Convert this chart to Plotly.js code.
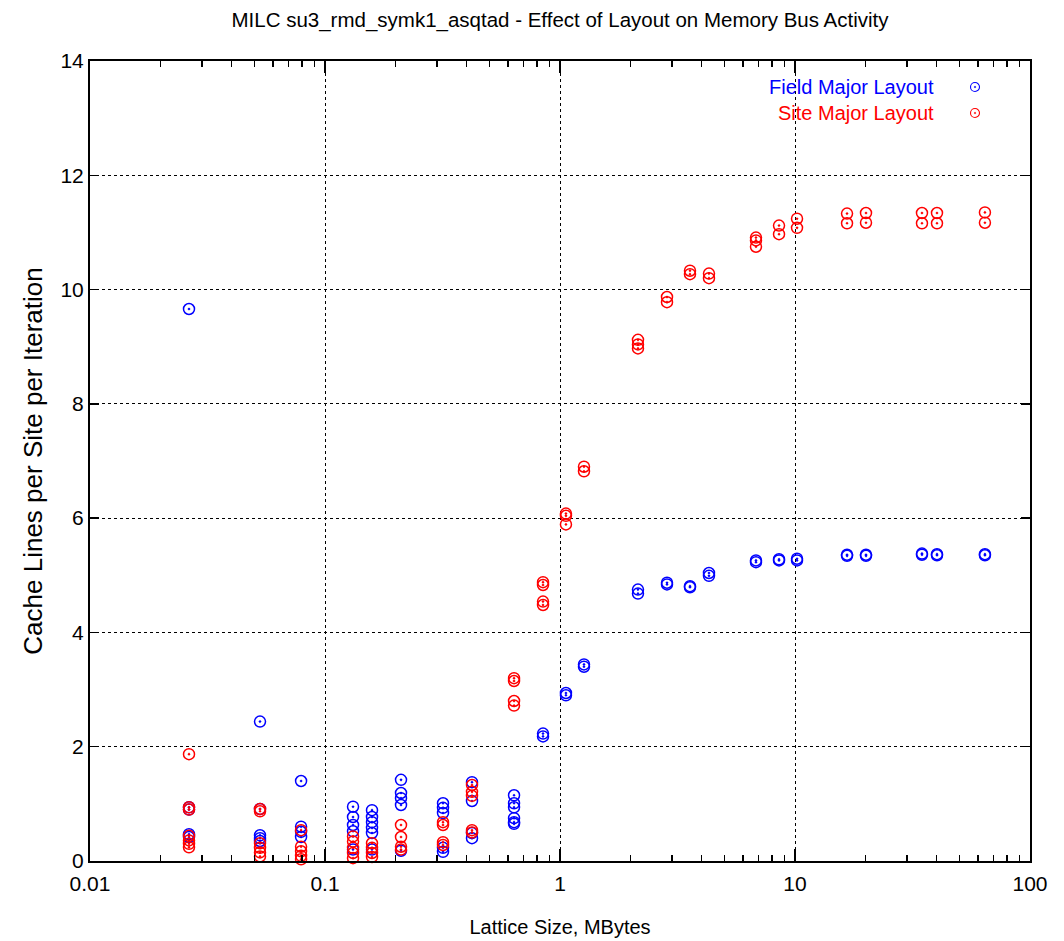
<!DOCTYPE html>
<html>
<head>
<meta charset="utf-8">
<script src="https://cdn.plot.ly/plotly-3.0.1.min.js"></script>
<style>
  html, body { margin: 0; padding: 0; background: #fff; }
  #chart { width: 1064px; height: 941px; }
</style>
</head>
<body>
<div id="chart"></div>
<script>
// Lattice size (MBytes) and cache lines per site per iteration, one row per run
const fieldX = [
  0.02638, 0.02638, 0.02638, 0.02638, 0.02638,
  0.0529, 0.0529, 0.0529, 0.0529, 0.0529,
  0.0791, 0.0791, 0.0791, 0.0791,
  0.1316, 0.1316, 0.1316, 0.1316, 0.1316,
  0.1585, 0.1585, 0.1585, 0.1585, 0.1585, 0.1585,
  0.2106, 0.2106, 0.2106, 0.2106, 0.2106,
  0.3178, 0.3178, 0.3178, 0.3178, 0.3178,
  0.4222, 0.4222, 0.4222, 0.4222,
  0.6374, 0.6374, 0.6374, 0.6374, 0.6374, 0.6374,
  0.8467, 0.8467,
  1.06, 1.06,
  1.265, 1.265,
  2.147, 2.147,
  2.853, 2.853,
  3.574, 3.574,
  4.305, 4.305,
  6.823, 6.823,
  8.551, 8.551,
  10.20, 10.20,
  16.65, 16.65,
  20.05, 20.05,
  34.7, 34.7,
  40.2, 40.2,
  64.3, 64.3
];
const fieldY = [
  9.66, 0.94, 0.90, 0.47, 0.42,
  2.44, 0.91, 0.45, 0.40, 0.35,
  1.40, 0.60, 0.51, 0.42,
  0.95, 0.77, 0.63, 0.52, 0.20,
  0.89, 0.77, 0.68, 0.58, 0.49, 0.20,
  1.42, 1.19, 1.10, 0.98, 0.18,
  1.01, 0.93, 0.84, 0.23, 0.16,
  1.38, 1.05, 0.49, 0.40,
  1.15, 1.01, 0.94, 0.75, 0.68, 0.65,
  2.23, 2.18,
  2.94, 2.90,
  3.44, 3.40,
  4.75, 4.68,
  4.87, 4.84,
  4.81, 4.79,
  5.04, 4.99,
  5.26, 5.23,
  5.28, 5.26,
  5.29, 5.26,
  5.36, 5.34,
  5.36, 5.34,
  5.38, 5.36,
  5.37, 5.35,
  5.37, 5.35
];

const siteX = [
  0.02638, 0.02638, 0.02638, 0.02638, 0.02638, 0.02638, 0.02638,
  0.0529, 0.0529, 0.0529, 0.0529, 0.0529, 0.0529,
  0.0791, 0.0791, 0.0791, 0.0791, 0.0791,
  0.1316, 0.1316, 0.1316, 0.1316, 0.1316,
  0.1585, 0.1585, 0.1585, 0.1585,
  0.2106, 0.2106, 0.2106, 0.2106,
  0.3178, 0.3178, 0.3178, 0.3178,
  0.4222, 0.4222, 0.4222, 0.4222, 0.4222,
  0.6374, 0.6374, 0.6374, 0.6374,
  0.8467, 0.8467, 0.8467, 0.8467,
  1.06, 1.06, 1.06,
  1.265, 1.265,
  2.147, 2.147, 2.147,
  2.853, 2.853,
  3.574, 3.574,
  4.305, 4.305,
  6.823, 6.823, 6.823,
  8.551, 8.551,
  10.20, 10.20,
  16.65, 16.65,
  20.05, 20.05,
  34.7, 34.7,
  40.2, 40.2,
  64.3, 64.3
];
const siteY = [
  1.87, 0.94, 0.90, 0.44, 0.36, 0.30, 0.24,
  0.91, 0.87, 0.31, 0.23, 0.15, 0.08,
  0.54, 0.25, 0.17, 0.09, 0.03,
  0.43, 0.34, 0.23, 0.14, 0.05,
  0.31, 0.23, 0.14, 0.07,
  0.63, 0.42, 0.25, 0.20,
  0.68, 0.63, 0.33, 0.28,
  1.33, 1.21, 1.14, 0.54, 0.50,
  3.20, 3.15, 2.80, 2.72,
  4.88, 4.83, 4.54, 4.48,
  6.08, 6.04, 5.89,
  6.90, 6.82,
  9.12, 9.04, 8.97,
  9.87, 9.78,
  10.33, 10.27,
  10.28, 10.20,
  10.91, 10.86, 10.75,
  11.12, 10.97,
  11.24, 11.08,
  11.33, 11.16,
  11.34, 11.17,
  11.34, 11.16,
  11.34, 11.16,
  11.35, 11.17
];

const xTickVals = [0.01, 0.1, 1, 10, 100];
const xTickText = ['0.01', '0.1', '1', '10', '100'];
const seriesNames = ['Field Major Layout', 'Site Major Layout'];
const seriesColors = ['#0000ff', '#ff0000'];

// minor ticks at 2..9 of each decade
const minorVals = [];
for (let d = -2; d < 2; d++) {
  for (let m = 2; m <= 9; m++) minorVals.push(m * Math.pow(10, d));
}

const FONT = 'Liberation Sans, Arial, sans-serif';

function markerStyle(color) {
  return {
    symbol: 'circle-open-dot',
    size: 11,
    color: color,
    line: { color: color, width: 1.5 }
  };
}

const traces = [
  { x: fieldX, y: fieldY, name: seriesNames[0], type: 'scatter', mode: 'markers',
    marker: markerStyle(seriesColors[0]), cliponaxis: false },
  { x: siteX, y: siteY, name: seriesNames[1], type: 'scatter', mode: 'markers',
    marker: markerStyle(seriesColors[1]), cliponaxis: false }
];

// key: right-aligned labels with the symbol to their right
const keyTextX = 0.9;
const keySymX = 0.9415;
const keyY = [0.9675, 0.935];
const annotations = [];
const shapes = [];
seriesNames.forEach((name, i) => {
  annotations.push({
    xref: 'paper', yref: 'paper', x: keyTextX, y: keyY[i],
    xanchor: 'right', yanchor: 'middle', showarrow: false,
    text: name, font: { family: FONT, size: 20, color: seriesColors[i] }
  });
  shapes.push({
    type: 'circle', xref: 'paper', yref: 'paper',
    xsizemode: 'pixel', ysizemode: 'pixel',
    xanchor: keySymX, yanchor: keyY[i],
    x0: -4.5, x1: 4.5, y0: -4.5, y1: 4.5,
    line: { color: seriesColors[i], width: 1.1 }
  });
  shapes.push({
    type: 'circle', xref: 'paper', yref: 'paper',
    xsizemode: 'pixel', ysizemode: 'pixel',
    xanchor: keySymX, yanchor: keyY[i],
    x0: -0.8, x1: 0.8, y0: -0.8, y1: 0.8,
    fillcolor: seriesColors[i], line: { color: seriesColors[i], width: 0.5 }
  });
});

const layout = {
  width: 1064,
  height: 941,
  margin: { l: 90, r: 34, t: 61, b: 80 },
  paper_bgcolor: '#ffffff',
  plot_bgcolor: '#ffffff',
  showlegend: false,
  font: { family: FONT, size: 20, color: '#000' },
  title: {
    text: 'MILC su3_rmd_symk1_asqtad - Effect of Layout on Memory Bus Activity',
    font: { family: FONT, size: 20.5, color: '#000' },
    xref: 'paper', x: 0.5, xanchor: 'center',
    yref: 'container', y: 0.979, yanchor: 'middle'
  },
  xaxis: {
    type: 'log',
    range: [-2, 2],
    tickmode: 'array',
    tickvals: xTickVals,
    ticktext: xTickText,
    ticks: 'inside', ticklen: 12, tickwidth: 1.5, tickcolor: '#000',
    ticklabelstandoff: 3,
    showline: true, linewidth: 2, linecolor: '#000', mirror: 'allticks',
    showgrid: true, gridcolor: '#000', gridwidth: 1, griddash: 'dot',
    zeroline: false,
    tickfont: { family: FONT, size: 21, color: '#000' },
    minor: { tickmode: 'array', tickvals: minorVals, ticks: 'inside', ticklen: 6,
             tickwidth: 1.5, tickcolor: '#000', showgrid: false },
    title: { text: 'Lattice Size, MBytes', standoff: 26,
             font: { family: FONT, size: 20, color: '#000' } }
  },
  yaxis: {
    range: [0, 14],
    dtick: 2,
    ticks: 'inside', ticklen: 9, tickwidth: 1.5, tickcolor: '#000',
    showline: true, linewidth: 2, linecolor: '#000', mirror: 'allticks',
    showgrid: true, gridcolor: '#000', gridwidth: 1, griddash: 'dot',
    zeroline: false,
    tickfont: { family: FONT, size: 21, color: '#000' },
    title: { text: 'Cache Lines per Site per Iteration', standoff: 10,
             font: { family: FONT, size: 26, color: '#000' } }
  },
  annotations: annotations,
  shapes: shapes
};

Plotly.newPlot('chart', traces, layout, { displayModeBar: false, staticPlot: true });
</script>
</body>
</html>
